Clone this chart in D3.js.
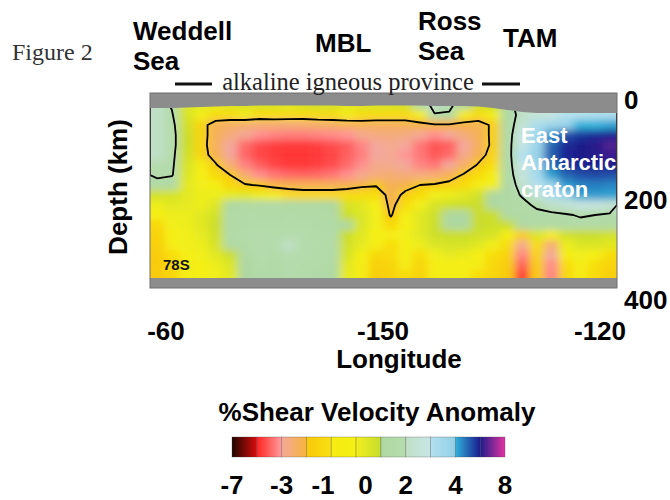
<!DOCTYPE html>
<html>
<head>
<meta charset="utf-8">
<script src="https://cdn.jsdelivr.net/npm/d3@7"></script>
<style>
  body { margin: 0; background: #fff; }
  svg { display: block; }
</style>
</head>
<body>
<svg id="chart" width="670" height="500"></svg>
<script>
// ---- data ----
const lonTicks = ["-60", "-150", "-120"];
const depthTicks = [0, 200, 400];
const cbTicks = [-7, -3, -1, 0, 2, 4, 8];
const cbBreaks = [-7, -5, -3, -1.6, -0.7, -0.3, 0.5, 2, 3, 4, 6, 8];
const cbColors = [
  ["#1e0600", "#d80c0c"],
  ["#ff2222", "#ff9c9c"],
  ["#f3a89c", "#f7b43c"],
  ["#f8c80a", "#f8e012"],
  ["#f5ec12", "#f5f014"],
  ["#f2ef1c", "#c6dc2e"],
  ["#aed8a2", "#b6dcae"],
  ["#bfe0c6", "#c8e6e6"],
  ["#b2e0ee", "#92d0e8"],
  ["#30b2da", "#1a1a8e"],
  ["#1c1c8a", "#e632a2"]
];
const regionNames = [["Weddell", "Sea"], ["MBL"], ["Ross", "Sea"], ["TAM"]];
const cratonName = ["East", "Antarctic", "craton"];

// depth (km) of each grid row centre
const depthRows = [10, 30, 50, 70, 90, 110, 130, 150, 170, 190, 210, 230, 250, 270, 290, 310, 330, 350];
// depth where data start below the grey top (one per column)
const surfaceDepth = [16, 16, 15, 14, 13, 12, 12, 11, 11, 11, 11, 11, 11, 12, 12, 11,
                      11, 11, 11, 12, 12, 12, 13, 16, 20, 24, 26, 26, 26, 26, 26, 26];
const dataBottom = 356;   // km, grey below
const contourLevel = 1.5; // +/- %
const contourMaxDepth = 250;

// % shear velocity anomaly, one row per depth, one value per column (west -> east)
const dvs = [
  [2.0, 1.4, 0.1, 0.0, -0.1, 0.1, 0.2, 0.2, 0.2, 0.1, 0.2, 0.3, 0.3, 0.0, 0.1, 0.2, 0.2, 0.3, 0.5, 2.0, 1.9, 0.5, 0.3, 0.4, 1.0, 2.2, 2.4, 2.5, 2.6, 2.6, 2.7, 2.8],
  [2.0, 1.6, 0.2, -0.3, -0.8, -0.8, -0.7, -0.9, -0.8, -0.8, -0.9, -0.8, -0.8, -0.7, -0.8, -0.8, -0.8, -0.9, -0.6, 1.4, 1.3, -0.7, -0.8, -0.3, 0.8, 2.0, 2.6, 2.8, 3.0, 3.0, 3.2, 3.2],
  [2.0, 1.8, 0.3, -1.1, -2.0, -2.2, -2.3, -2.4, -2.4, -2.5, -2.4, -2.3, -2.2, -2.1, -2.0, -2.1, -2.1, -2.0, -1.8, -1.7, -1.7, -1.8, -2.0, -1.3, 0.8, 2.4, 3.2, 3.6, 3.8, 4.0, 4.0, 4.2],
  [2.0, 1.9, 0.4, -1.1, -2.0, -2.5, -2.9, -3.2, -3.4, -3.5, -3.5, -3.4, -3.3, -3.1, -2.8, -2.6, -2.5, -2.6, -2.9, -3.2, -3.0, -2.5, -2.0, -1.3, 0.9, 2.8, 3.5, 4.4, 5.3, 5.6, 5.8, 5.9],
  [2.0, 1.9, 0.4, -1.1, -2.1, -3.0, -3.8, -4.3, -4.5, -4.6, -4.6, -4.5, -4.3, -4.0, -3.4, -3.0, -2.8, -3.0, -3.6, -4.2, -4.0, -3.0, -2.1, -1.3, 1.0, 2.9, 3.7, 5.0, 5.8, 6.0, 6.1, 6.5],
  [2.0, 1.8, 0.3, -1.1, -1.9, -3.0, -3.9, -4.4, -4.6, -4.7, -4.7, -4.6, -4.4, -4.0, -3.5, -3.0, -2.9, -3.1, -3.6, -4.1, -3.8, -2.8, -1.9, -1.1, 1.0, 3.0, 3.8, 5.1, 5.9, 6.0, 6.1, 6.3],
  [1.9, 1.7, 0.2, -0.6, -1.4, -2.4, -3.4, -4.0, -4.4, -4.6, -4.6, -4.5, -4.3, -3.8, -3.2, -2.8, -2.8, -3.0, -3.4, -3.6, -3.0, -2.2, -1.4, -0.8, 0.9, 2.9, 3.6, 4.8, 5.7, 5.9, 6.0, 6.0],
  [1.8, 1.6, 0.1, -0.4, -0.9, -1.5, -2.4, -3.2, -3.6, -3.8, -3.9, -3.8, -3.6, -3.2, -2.8, -2.5, -2.4, -2.5, -2.6, -2.4, -2.0, -1.4, -0.9, -0.5, 0.8, 2.6, 3.3, 4.2, 5.0, 5.3, 5.4, 5.3],
  [0.9, 0.7, 0.0, -0.3, -0.6, -1.0, -1.4, -1.6, -1.8, -1.9, -2.0, -2.0, -2.0, -1.9, -1.7, -1.6, -2.0, -1.8, -1.5, -1.4, -1.2, -0.9, -0.6, -0.3, 0.6, 2.2, 3.0, 3.7, 4.3, 4.6, 4.7, 4.6],
  [0.3, 0.2, 0.0, -0.2, -0.2, -0.1, 0.0, -0.2, -0.6, -0.9, -1.0, -1.0, -1.0, -0.9, -0.8, -0.8, -1.9, -1.3, -0.8, -0.3, -0.2, 0.0, 0.3, 0.5, 1.0, 1.6, 2.6, 3.2, 3.8, 4.2, 4.3, 4.2],
  [-0.2, 0.0, -0.1, -0.2, 0.1, 0.5, 0.8, 0.9, 0.9, 0.8, 0.7, 0.7, 0.5, 0.2, 0.0, -0.4, -1.8, -0.8, -0.3, 0.2, 0.35, 0.4, 0.4, 0.5, 0.9, 1.2, 1.7, 2.0, 2.4, 2.8, 2.8, 2.5],
  [-0.5, -0.2, -0.2, 0.0, 0.3, 1.1, 1.2, 1.3, 1.3, 1.4, 1.3, 1.2, 1.0, 0.4, 0.1, -0.3, -1.6, -0.5, 0.0, 0.35, 0.5, 0.55, 0.45, 0.4, 0.8, 1.0, 1.2, 1.3, 1.4, 1.6, 1.5, 1.3],
  [-1.0, -0.3, -0.2, 0.0, 0.4, 1.2, 1.3, 1.4, 1.4, 1.4, 1.4, 1.3, 1.1, 0.5, 0.1, -0.3, -1.0, -0.4, 0.0, 0.4, 0.5, 0.55, 0.45, 0.35, 0.4, 0.9, 1.0, 1.1, 1.1, 1.2, 1.1, 1.0],
  [-1.2, -0.4, -0.3, -0.1, 0.3, 1.2, 1.5, 1.8, 1.6, 1.8, 1.6, 1.4, 1.2, 0.4, 0.0, -0.4, -0.6, -0.3, 0.0, 0.35, 0.4, 0.4, 0.3, 0.2, -0.4, -1.4, 0.1, -0.6, 0.3, 0.4, 0.4, 0.3],
  [-1.3, -0.6, -0.3, -0.2, 0.2, 0.8, 1.3, 1.8, 1.6, 2.0, 1.7, 1.5, 1.2, 0.3, -0.1, -0.5, -0.8, -0.4, -0.2, 0.1, 0.2, 0.2, 0.0, -0.3, -0.9, -2.8, -0.8, -2.4, -0.2, 0.1, 0.1, 0.0],
  [-1.4, -0.8, -0.4, -0.3, 0.0, 0.4, 1.0, 1.6, 1.5, 1.9, 1.6, 1.5, 1.1, 0.2, -0.4, -1.0, -0.9, -0.5, -0.8, -0.3, -0.1, -0.2, -0.4, -0.8, -1.2, -3.4, -1.2, -3.0, -0.6, -0.3, -0.4, -0.8],
  [-1.5, -1.0, -0.5, -0.4, -0.2, 0.1, 0.6, 1.4, 1.3, 1.7, 1.5, 1.4, 1.0, 0.0, -0.6, -1.3, -1.1, -0.7, -1.1, -0.6, -0.5, -0.5, -0.7, -1.0, -1.4, -4.0, -1.4, -3.3, -0.9, -0.6, -0.8, -1.2],
  [-1.5, -1.1, -0.6, -0.4, -0.3, 0.0, 0.5, 1.3, 1.2, 1.6, 1.4, 1.3, 0.9, -0.1, -0.7, -1.4, -1.2, -0.8, -1.2, -0.7, -0.6, -0.6, -0.8, -1.1, -1.5, -4.6, -1.5, -3.4, -1.0, -0.7, -0.9, -1.3]
];

// ---- layout ----
const SANS = "'Liberation Sans', Arial, Helvetica, sans-serif";
const SERIF = "'Liberation Serif', 'Times New Roman', serif";
const PLOT = { left: 150, right: 617, top: 93, bottom: 288 };
const GREY = "#8c8c8c";

const nCols = dvs[0].length;
const nRows = dvs.length;
const step = depthRows[1] - depthRows[0];
const depth0 = depthRows[0] - step / 2;

const xCell = d3.scaleLinear().domain([0, nCols]).range([PLOT.left, PLOT.right]);
const yDepth = d3.scaleLinear().domain([0, 400]).range([100, 300]);
const xLon = d3.scalePoint().domain(lonTicks).range([166, 600]);

// piecewise colour: each colour-bar segment is its own gradient
const segScales = cbColors.map((c, i) =>
  d3.scaleLinear().domain([cbBreaks[i], cbBreaks[i + 1]]).range(c).clamp(true));
function colorOf(v) {
  const i = Math.max(0, Math.min(segScales.length - 1, d3.bisectRight(cbBreaks, v) - 1));
  return segScales[i](v);
}

const svg = d3.select("#chart");
const defs = svg.append("defs");
defs.append("clipPath").attr("id", "plot-clip")
  .append("rect")
  .attr("x", PLOT.left).attr("y", PLOT.top)
  .attr("width", PLOT.right - PLOT.left).attr("height", PLOT.bottom - PLOT.top);
defs.append("filter").attr("id", "smooth")
  .attr("x", "-5%").attr("y", "-5%").attr("width", "110%").attr("height", "110%")
  .append("feGaussianBlur").attr("stdDeviation", "4 3.5");

// ---- velocity field ----
const cells = [];
dvs.forEach((row, j) => row.forEach((v, i) => cells.push({ i, j, v })));
const EXT = 14; // stretch edge cells so the blur does not fade at the frame
const field = svg.append("g").attr("clip-path", "url(#plot-clip)")
  .append("g").attr("filter", "url(#smooth)");
field.selectAll("rect")
  .data(cells)
  .join("rect")
  .attr("x", (d) => xCell(d.i) - (d.i === 0 ? EXT : 0))
  .attr("width", (d) => xCell(d.i + 1) - xCell(d.i) + 0.6 + (d.i === 0 || d.i === nCols - 1 ? EXT : 0))
  .attr("y", (d) => yDepth(depthRows[d.j] - step / 2) - (d.j === 0 ? EXT : 0))
  .attr("height", (d) => yDepth(depthRows[d.j] + step / 2) - yDepth(depthRows[d.j] - step / 2) + 0.6 + (d.j === 0 || d.j === nRows - 1 ? EXT : 0))
  .attr("fill", (d) => colorOf(d.v));

// ---- +/- contours ----
const flat = [];
dvs.forEach((row, j) => row.forEach((v) => flat.push(depthRows[j] > contourMaxDepth ? 0 : v)));
const contourGen = d3.contours().size([nCols, nRows]).thresholds([contourLevel]);
const gridPath = d3.geoPath(d3.geoTransform({
  point(x, y) { this.stream.point(xCell(x), yDepth(depth0 + y * step)); }
}));
const shapes = contourGen(flat).concat(contourGen(flat.map((v) => -v)));
svg.append("g").attr("clip-path", "url(#plot-clip)")
  .selectAll("path")
  .data(shapes)
  .join("path")
  .attr("d", gridPath)
  .attr("fill", "none")
  .attr("stroke", "#000")
  .attr("stroke-width", 1.8)
  .attr("stroke-linejoin", "round");

// ---- grey (no data) top and bottom ----
const surfPts = [{ x: PLOT.left, d: surfaceDepth[0] }]
  .concat(surfaceDepth.map((d, i) => ({ x: xCell(i + 0.5), d })))
  .concat([{ x: PLOT.right, d: surfaceDepth[nCols - 1] }]);
svg.append("path")
  .datum(surfPts)
  .attr("d", d3.area().x((p) => p.x).y0(PLOT.top).y1((p) => yDepth(p.d)))
  .attr("fill", GREY);
svg.append("rect")
  .attr("x", PLOT.left).attr("y", yDepth(dataBottom))
  .attr("width", PLOT.right - PLOT.left).attr("height", PLOT.bottom - yDepth(dataBottom))
  .attr("fill", GREY);
svg.append("rect")
  .attr("x", PLOT.left).attr("y", PLOT.top)
  .attr("width", PLOT.right - PLOT.left).attr("height", PLOT.bottom - PLOT.top)
  .attr("fill", "none").attr("stroke", "#6e6e6e").attr("stroke-width", 1);

// ---- in-plot labels ----
svg.append("text")
  .attr("x", 163).attr("y", 270)
  .style("font", `bold 15px ${SANS}`).attr("fill", "#111")
  .text("78S");
svg.append("text")
  .attr("x", 521).attr("y", 143)
  .style("font", `bold 22px ${SANS}`).attr("fill", "#fff")
  .selectAll("tspan").data(cratonName).join("tspan")
  .attr("x", 521).attr("dy", (d, i) => (i ? 27 : 0))
  .text((d) => d);

// ---- axes ----
svg.append("g").selectAll("text")
  .data(depthTicks).join("text")
  .attr("x", 624).attr("y", (d) => yDepth(d)).attr("dy", "0.36em")
  .style("font", `bold 26px ${SANS}`).attr("fill", "#000")
  .text((d) => d);

svg.append("text")
  .attr("transform", `translate(127,187) rotate(-90)`)
  .attr("text-anchor", "middle")
  .style("font", `bold 26px ${SANS}`)
  .text("Depth (km)");

svg.append("g").selectAll("text")
  .data(lonTicks).join("text")
  .attr("x", (d) => xLon(d)).attr("y", 340)
  .attr("text-anchor", "middle")
  .style("font", `bold 26px ${SANS}`)
  .text((d) => d);

svg.append("text")
  .attr("x", 399).attr("y", 368).attr("text-anchor", "middle")
  .style("font", `bold 26px ${SANS}`)
  .text("Longitude");

// ---- header ----
svg.append("text")
  .attr("x", 12).attr("y", 60)
  .style("font", `24px ${SERIF}`).attr("fill", "#333")
  .text("Figure 2");

const regionPos = [[133, 40], [315, 52], [418, 30], [503, 47]];
svg.append("g").selectAll("text")
  .data(regionNames).join("text")
  .attr("x", (d, i) => regionPos[i][0]).attr("y", (d, i) => regionPos[i][1])
  .style("font", `bold 26px ${SANS}`)
  .selectAll("tspan").data((d) => d).join("tspan")
  .attr("x", function () { return this.parentNode.getAttribute("x"); })
  .attr("dy", (d, i) => (i ? 30 : 0))
  .text((d) => d);

svg.append("text")
  .attr("x", 348).attr("y", 90).attr("text-anchor", "middle")
  .style("font", `24.5px ${SERIF}`).attr("fill", "#222")
  .text("alkaline igneous province");
svg.append("g").selectAll("line")
  .data([[175, 212], [482, 520]]).join("line")
  .attr("x1", (d) => d[0]).attr("x2", (d) => d[1])
  .attr("y1", 84).attr("y2", 84)
  .attr("stroke", "#111").attr("stroke-width", 3);

// ---- colour bar ----
const CB = { left: 232, right: 505, top: 437, h: 20 };
const cbPos = d3.scaleLinear()
  .domain(cbBreaks)
  .range(cbBreaks.map((d, i) => CB.left + (i * (CB.right - CB.left)) / (cbBreaks.length - 1)));

const grads = defs.selectAll("linearGradient")
  .data(cbColors).join("linearGradient")
  .attr("id", (d, i) => `cb${i}`);
grads.append("stop").attr("offset", "0%").attr("stop-color", (d) => d[0]);
grads.append("stop").attr("offset", "100%").attr("stop-color", (d) => d[1]);

svg.append("g").selectAll("rect")
  .data(cbColors).join("rect")
  .attr("x", (d, i) => cbPos(cbBreaks[i]))
  .attr("width", (d, i) => cbPos(cbBreaks[i + 1]) - cbPos(cbBreaks[i]))
  .attr("y", CB.top).attr("height", CB.h)
  .attr("fill", (d, i) => `url(#cb${i})`)
  .attr("stroke", "rgba(60,60,60,0.35)").attr("stroke-width", 0.8);

svg.append("text")
  .attr("x", 377).attr("y", 421).attr("text-anchor", "middle")
  .style("font", `bold 26px ${SANS}`)
  .text("%Shear Velocity Anomaly");

svg.append("g").selectAll("text")
  .data(cbTicks).join("text")
  .attr("x", (d) => cbPos(d)).attr("y", 494)
  .attr("text-anchor", "middle")
  .style("font", `bold 26px ${SANS}`)
  .text((d) => d);
</script>
</body>
</html>
